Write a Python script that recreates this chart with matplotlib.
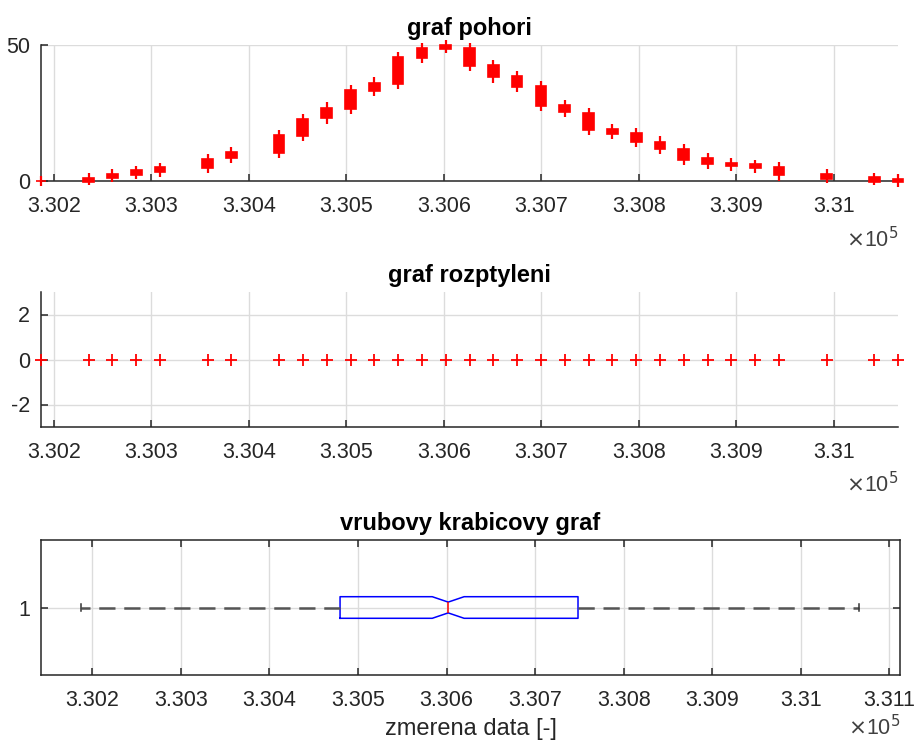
import numpy as np
import matplotlib
matplotlib.use("Agg")
import matplotlib.pyplot as plt
from matplotlib.ticker import FuncFormatter

plt.rcParams['font.family'] = ['Liberation Sans', 'DejaVu Sans']
plt.rcParams['axes.unicode_minus'] = False

# measured values (unique levels of the data)
levels = [330186.7, 330235.5, 330260.0, 330284.4, 330308.8, 330357.6, 330382.1,
          330430.9, 330455.3, 330479.7, 330504.2, 330528.6, 330553.0, 330577.4,
          330601.8, 330626.3, 330650.7, 330675.1, 330699.5, 330724.0, 330748.4,
          330772.8, 330797.2, 330821.6, 330846.0, 330870.5, 330894.9, 330919.3,
          330943.7, 330992.6, 331041.4, 331065.8]

# candle chart (graf pohori): body low/high, wick low/high
body_lo = [0.0, -0.3, 1.2, 2.3, 3.2, 4.9, 8.5, 10.3, 16.7, 23.1, 26.6, 33.0,
           35.7, 45.2, 48.6, 42.2, 38.2, 34.6, 27.6, 25.3, 18.9, 17.2, 14.2,
           11.9, 7.9, 6.1, 5.4, 4.8, 2.2, 0.9, -0.3, -0.5]
body_hi = [0.0, 1.1, 2.7, 3.9, 5.1, 8.1, 10.7, 17.0, 22.9, 26.9, 33.3, 36.1,
           45.5, 48.9, 50.1, 48.9, 42.5, 38.5, 34.9, 28.0, 25.1, 19.3, 17.5,
           14.5, 11.6, 8.4, 6.8, 6.3, 5.3, 2.7, 1.3, 0.8]
wick_lo = [-2.0, -1.5, -0.5, 0.9, 1.5, 3.1, 6.6, 8.4, 14.7, 21.1, 24.7, 31.1,
           34.0, 43.4, 46.9, 40.4, 36.2, 32.8, 25.7, 23.5, 16.9, 15.4, 12.4,
           10.1, 6.0, 4.3, 3.7, 3.1, 0.0, -0.85, -1.5, -2.1]
wick_hi = [1.8, 3.1, 4.3, 5.5, 6.6, 10.1, 12.4, 18.8, 24.7, 28.9, 35.3, 38.1,
           47.5, 50.7, 52.0, 50.7, 44.5, 40.4, 36.8, 29.8, 27.0, 21.1, 19.4,
           16.6, 13.5, 10.2, 8.5, 7.7, 7.1, 4.3, 3.1, 2.5]

# notched box plot statistics
box_stats = dict(med=330601.8, q1=330479.7, q3=330748.4,
                 whislo=330186.7, whishi=331065.8,
                 cilo=330583.8, cihi=330619.8, fliers=[])

xticks_top = [330200, 330300, 330400, 330500, 330600, 330700, 330800, 330900, 331000]
xticks_box = xticks_top + [331100]

AX_C = '#262626'
GRID_C = '#dcdcdc'
FS = 15.5
TFS = 17

fmt = FuncFormatter(lambda v, p: f"{v / 1e5:g}")


def style(ax, box=False):
    ax.set_axisbelow(True)
    ax.grid(True, color=GRID_C, lw=1.0)
    for s in ['top', 'right']:
        ax.spines[s].set_visible(box)
    for s in ax.spines.values():
        s.set_color(AX_C)
        s.set_linewidth(1.1)
    ax.tick_params(direction='in', length=5, width=1.1, colors=AX_C,
                   labelsize=FS, top=box, right=box, pad=8)
    ax.tick_params(axis='x', pad=11)
    ax.xaxis.set_major_formatter(fmt)


def exp_label(ax, y):
    ax.text(0.97, y, r'$\times$10$^5$', transform=ax.transAxes, ha='center',
            va='center', fontsize=FS, color='#404040')


fig = plt.figure(figsize=(9.18, 7.42), dpi=100)
xmin, xmax = levels[0], levels[-1]

# --- graf pohori
ax1 = fig.add_axes([41 / 918, 1 - 181 / 742, 857 / 918, 136 / 742])
style(ax1)
lv = np.array(levels)
ax1.bar(lv, np.array(body_hi) - np.array(body_lo), bottom=body_lo, width=11,
        color='red', edgecolor='red', lw=1.2, clip_on=False, zorder=3)
ax1.vlines(lv, wick_lo, wick_hi, color='red', lw=1.6, clip_on=False, zorder=3)
ax1.set_xlim(xmin, xmax)
ax1.set_ylim(0, 50)
ax1.set_yticks([0, 50])
ax1.set_xticks(xticks_top)
ax1.set_title('graf pohori', fontsize=TFS, fontweight='bold', pad=7)
exp_label(ax1, -0.43)

# --- graf rozptyleni
ax2 = fig.add_axes([41 / 918, 1 - 427 / 742, 857 / 918, 135 / 742])
style(ax2)
ax2.plot(levels, np.zeros(len(levels)), '+', color='red', ms=9, mew=1.3,
         clip_on=False, zorder=3)
ax2.set_xlim(xmin, xmax)
ax2.set_ylim(-3, 3)
ax2.set_yticks([-2, 0, 2])
ax2.set_xticks(xticks_top)
ax2.set_title('graf rozptyleni', fontsize=TFS, fontweight='bold', pad=7)
exp_label(ax2, -0.43)

# --- vrubovy krabicovy graf
ax3 = fig.add_axes([41 / 918, 1 - 675 / 742, 859 / 918, 135 / 742])
style(ax3, box=True)
ax3.bxp([box_stats], positions=[1], vert=False, shownotches=True, widths=0.16,
        capwidths=0.05, showfliers=False,
        boxprops=dict(color='blue', lw=1.1),
        medianprops=dict(color='red', lw=1.1),
        whiskerprops=dict(color='#555555', lw=1.8, linestyle=(0, (6.5, 3.5))),
        capprops=dict(color='#333333', lw=1.1))
ax3.set_xlim(330142, 331112)
ax3.set_ylim(0.5, 1.5)
ax3.set_yticks([1])
ax3.set_yticklabels(['1'])
ax3.set_xticks(xticks_box)
ax3.xaxis.set_major_formatter(fmt)
ax3.set_xlabel('zmerena data [-]', fontsize=TFS, color=AX_C, labelpad=5)
ax3.set_title('vrubovy krabicovy graf', fontsize=TFS, fontweight='bold', pad=7)
exp_label(ax3, -0.39)

fig.savefig('out.png', dpi=100)
